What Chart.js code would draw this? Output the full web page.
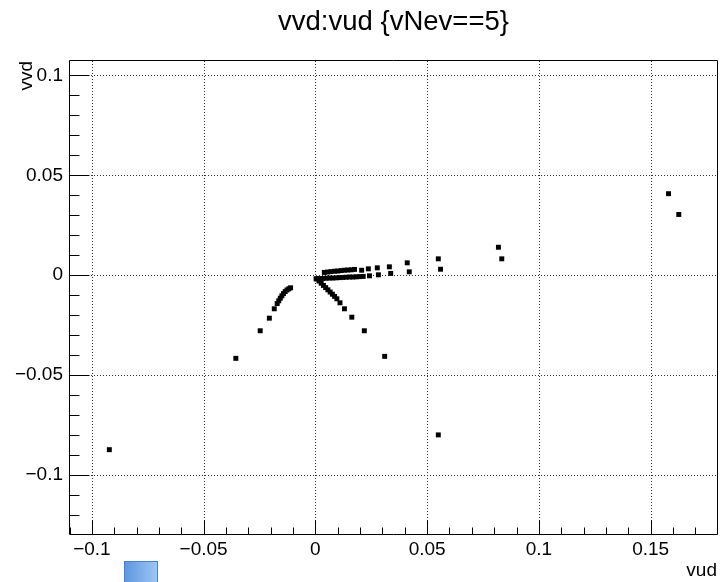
<!DOCTYPE html>
<html><head><meta charset="utf-8">
<script src="https://cdn.jsdelivr.net/npm/chart.js@4.4.1/dist/chart.umd.min.js"></script>
<style>
html,body{margin:0;padding:0;background:#fff;overflow:hidden}
#wrap{position:relative;width:728px;height:582px}
#icon{position:absolute;left:124px;top:561px;width:32px;height:24px;border:1px solid #4a82c8;background:linear-gradient(to right,#5f97df,#9cc6f4)}
</style></head>
<body><div id="wrap"><canvas id="c" width="728" height="582"></canvas><div id="icon"></div></div>
<script>
const titleText = 'vvd:vud {vNev==5}';
const xTitle = 'vud';
const yTitle = 'vvd';
const xMajorTicks = [-0.1, -0.05, 0, 0.05, 0.1, 0.15];
const xTickLabels = ['\u22120.1', '\u22120.05', '0', '0.05', '0.1', '0.15'];
const yMajorTicks = [-0.1, -0.05, 0, 0.05, 0.1];
const yTickLabels = ['\u22120.1', '\u22120.05', '0', '0.05', '0.1'];
const xMinorTicks = [-0.11,-0.09,-0.08,-0.07,-0.06,-0.04,-0.03,-0.02,-0.01,0.01,0.02,0.03,0.04,0.06,0.07,0.08,0.09,0.11,0.12,0.13,0.14,0.16,0.17];
const yMinorTicks = [-0.12,-0.11,-0.09,-0.08,-0.07,-0.06,-0.04,-0.03,-0.02,-0.01,0.01,0.02,0.03,0.04,0.06,0.07,0.08,0.09];

// left branch (vud < 0)
const leftX = [-0.0922,-0.0356,-0.0247,-0.0206,-0.0184,-0.0171,-0.0164,-0.0157,-0.0150,-0.0143,-0.0135,-0.0127,-0.0119,-0.0111];
const leftY = [-0.0873,-0.0416,-0.0278,-0.0215,-0.0168,-0.0142,-0.0128,-0.0115,-0.0103,-0.0092,-0.0082,-0.0074,-0.0068,-0.0063];
// descending branch
const downX = [0.0006,0.0016,0.0026,0.0036,0.0046,0.0056,0.0066,0.0076,0.0086,0.0096,0.0110,0.0130,0.0163,0.0219,0.0310];
const downY = [-0.0018,-0.0029,-0.0040,-0.0051,-0.0062,-0.0073,-0.0084,-0.0095,-0.0106,-0.0118,-0.0138,-0.0168,-0.0210,-0.0278,-0.0406];
// upper rising branch
const upperX = [0.0040,0.0055,0.0070,0.0085,0.0100,0.0115,0.0130,0.0145,0.0160,0.0175,0.0207,0.0237,0.0277,0.0331,0.0411,0.0550,0.0819,0.1580];
const upperY = [0.0014,0.0016,0.0018,0.0020,0.0021,0.0023,0.0025,0.0026,0.0027,0.0029,0.0025,0.0032,0.0037,0.0042,0.0062,0.0082,0.0140,0.0408];
// lower rising branch
const lowerX = [0.0003,0.0018,0.0033,0.0048,0.0063,0.0078,0.0093,0.0108,0.0123,0.0138,0.0153,0.0168,0.0183,0.0198,0.0214,0.0242,0.0282,0.0337,0.0420,0.0560,0.0834,0.1626];
const lowerY = [-0.0018,-0.0017,-0.0016,-0.0015,-0.0014,-0.0014,-0.0013,-0.0012,-0.0011,-0.0010,-0.0009,-0.0009,-0.0008,-0.0007,-0.0006,-0.0003,0.0002,0.0009,0.0017,0.0030,0.0082,0.0304];
// isolated
const loneX = [0.0550];
const loneY = [-0.0799];

function pts(xs, ys){ return xs.map((x,i)=>({x:x, y:ys[i]})); }
const allPoints = [].concat(pts(leftX,leftY), pts(downX,downY), pts(upperX,upperY), pts(lowerX,lowerY), pts(loneX,loneY));

const FONT = 'Liberation Sans, Arial, Helvetica, sans-serif';

function labelFor(list, labels, v){
  for (let i=0;i<list.length;i++) if (Math.abs(list[i]-v)<1e-9) return labels[i];
  return '';
}

const framePlugin = {
  id: 'rootFrame',
  beforeDatasetsDraw(chart){
    const {ctx, chartArea:a, scales:{x, y}} = chart;
    ctx.save();
    ctx.strokeStyle = '#333';
    ctx.lineWidth = 1;
    ctx.setLineDash([1,2]);
    xMajorTicks.forEach(v=>{
      const px = Math.round(x.getPixelForValue(v))+0.5;
      ctx.beginPath(); ctx.moveTo(px, a.top); ctx.lineTo(px, a.bottom); ctx.stroke();
    });
    yMajorTicks.forEach(v=>{
      const py = Math.round(y.getPixelForValue(v))+0.5;
      ctx.beginPath(); ctx.moveTo(a.left, py); ctx.lineTo(a.right, py); ctx.stroke();
    });
    ctx.restore();
  },
  afterDatasetsDraw(chart){
    const {ctx, chartArea:a, scales:{x, y}} = chart;
    ctx.save();
    ctx.strokeStyle = '#000';
    ctx.lineWidth = 1;
    ctx.setLineDash([]);
    const L = Math.round(a.left)-0.5, R = Math.round(a.right)+0.5, T = Math.round(a.top)-0.5, B = Math.round(a.bottom)+0.5;
    ctx.beginPath(); ctx.rect(L, T, R-L, B-T); ctx.stroke();
    const yt = (v,len)=>{ const py = Math.round(y.getPixelForValue(v))+0.5; ctx.beginPath(); ctx.moveTo(L, py); ctx.lineTo(L+len, py); ctx.stroke(); };
    yMajorTicks.forEach(v=>yt(v,20));
    yMinorTicks.forEach(v=>yt(v,10));
    const xt = (v,len)=>{ const px = Math.round(x.getPixelForValue(v))+0.5; ctx.beginPath(); ctx.moveTo(px, B); ctx.lineTo(px, B-len); ctx.stroke(); };
    xMajorTicks.forEach(v=>xt(v,14));
    xMinorTicks.forEach(v=>xt(v,7));
    ctx.fillStyle = '#000';
    ctx.font = '27.5px ' + FONT;
    ctx.textAlign = 'center';
    ctx.textBaseline = 'alphabetic';
    ctx.fillText(titleText, (a.left+a.right)/2, 30);
    ctx.font = '19px ' + FONT;
    ctx.textAlign = 'right';
    ctx.fillText(xTitle, a.right, 576);
    ctx.save();
    ctx.translate(32, a.top);
    ctx.rotate(-Math.PI/2);
    ctx.textAlign = 'right';
    ctx.fillText(yTitle, 0, 0);
    ctx.restore();
    ctx.restore();
  }
};

new Chart(document.getElementById('c').getContext('2d'), {
  type: 'scatter',
  data: { datasets: [{ data: allPoints, pointStyle: 'rect', pointRadius: 3.5, pointHoverRadius: 3.5, backgroundColor: '#000', borderColor: '#000', borderWidth: 0 }] },
  options: {
    responsive: false, animation: false, events: [],
    layout: { padding: { top: 61, right: 11, left: 0, bottom: 0 } },
    plugins: { legend: { display: false }, tooltip: { enabled: false }, title: { display: false } },
    scales: {
      x: {
        type: 'linear', min: -0.1098, max: 0.1797,
        afterFit(s){ s.height = 48; },
        afterBuildTicks(s){ s.ticks = xMajorTicks.map(v=>({value:v})); },
        grid: { display: false, drawTicks: false }, border: { display: false },
        ticks: { autoSkip: false, maxRotation: 0, padding: 4, color: '#000', font: { family: FONT, size: 19 },
          callback: (v)=>labelFor(xMajorTicks, xTickLabels, v) }
      },
      y: {
        type: 'linear', min: -0.1295, max: 0.1072,
        afterFit(s){ s.width = 70; },
        afterBuildTicks(s){ s.ticks = yMajorTicks.map(v=>({value:v})); },
        grid: { display: false, drawTicks: false }, border: { display: false },
        ticks: { autoSkip: false, padding: 7, color: '#000', font: { family: FONT, size: 19 },
          callback: (v)=>labelFor(yMajorTicks, yTickLabels, v) }
      }
    }
  },
  plugins: [framePlugin]
});
</script>
</body></html>
